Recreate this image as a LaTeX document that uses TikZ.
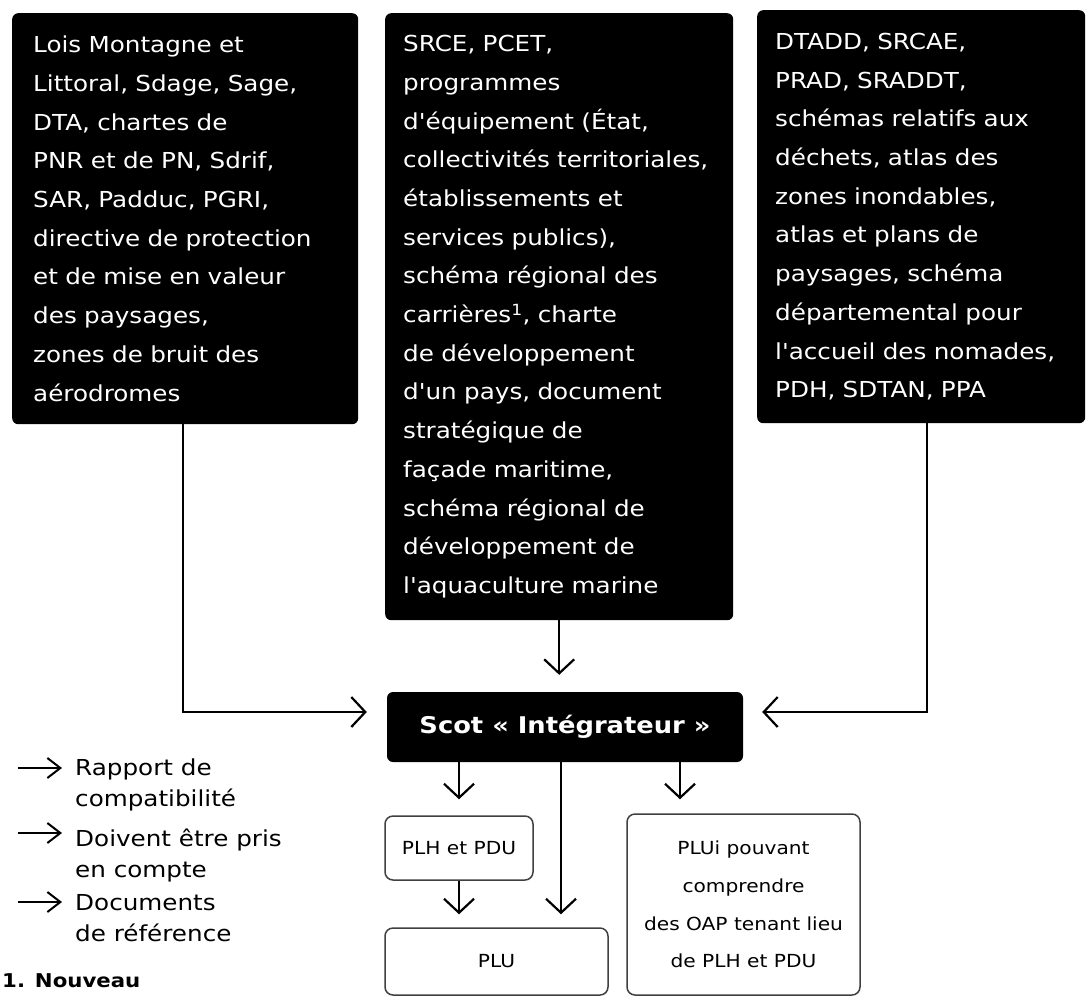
\documentclass[tikz,border=0pt]{standalone}
\usepackage{fontspec}
\setmainfont{DejaVu Sans}
\newfontfamily\wide[FakeStretch=1.12]{DejaVu Sans}
\usetikzlibrary{arrows.meta,calc}
\begin{document}
\begin{tikzpicture}[x=1pt,y=-1pt,
  darkbox/.style={fill=black, rounded corners=6pt, text=white, anchor=north west, align=left, inner ysep=0pt, font=\wide\fontsize{22}{38.7}\selectfont},
  scotbox/.style={fill=black, rounded corners=6pt, text=white, font=\wide\bfseries\fontsize{23}{28}\selectfont},
  whitebox/.style={draw=black!75, line width=1.5pt, rounded corners=8pt, align=center, font=\wide\fontsize{18}{37.7}\selectfont},
  arr/.style={line width=2.2pt, -{Straight Barb[length=14pt,width=30pt]}},
  legarr/.style={line width=2pt, -{Straight Barb[length=13pt,width=20pt]}},
  legtext/.style={anchor=north west, inner sep=0pt, align=left, font=\wide\fontsize{22}{31}\selectfont},
]
\fill[white] (0,0) rectangle (1092,997);
\useasboundingbox (0,0) rectangle (1092,997);

\node[darkbox, text width=304pt, inner xsep=21pt, minimum height=411pt] (box1) at (12,13)
 {Lois Montagne et\\Littoral, Sdage, Sage,\\DTA, chartes de\\PNR et de PN, Sdrif,\\SAR, Padduc, PGRI,\\directive de protection\\et de mise en valeur\\des paysages,\\zones de bruit des\\aérodromes};

\node[darkbox, text width=312pt, inner xsep=18pt, minimum height=607pt] (box2) at (385,13)
 {SRCE, PCET,\\programmes\\d'équipement (État,\\collectivités territoriales,\\établissements et\\services publics),\\schéma régional des\\carrières\textsuperscript{1}, charte\\de développement\\d'un pays, document\\stratégique de\\façade maritime,\\schéma régional de\\développement de\\l'aquaculture marine};

\node[darkbox, text width=292pt, inner xsep=18pt, minimum height=413pt] (box3) at (757,10)
 {DTADD, SRCAE,\\PRAD, SRADDT,\\schémas relatifs aux\\déchets, atlas des\\zones inondables,\\atlas et plans de\\paysages, schéma\\départemental pour\\l'accueil des nomades,\\PDH, SDTAN, PPA};

\node[scotbox, minimum width=356pt, minimum height=70pt] (scot) at (565,727) {Scot « Intégrateur »};

\node[whitebox, minimum width=148pt, minimum height=64pt] (plh) at (459,848) {PLH et PDU};
\node[whitebox, minimum width=223pt, minimum height=67pt] (plu) at (496.5,961.5) {PLU};
\node[whitebox, minimum width=233pt, minimum height=181pt] (plui) at (743.5,904.5)
 {PLUi pouvant\\comprendre\\des OAP tenant lieu\\de PLH et PDU};

\draw[arr, shorten >=20pt] ([xshift=-2pt]box1.south) |- ([yshift=15pt]scot.west);
\draw[arr, shorten >=19pt] ([xshift=6pt]box3.south) |- ([yshift=15pt]scot.east);
\draw[arr, shorten >=17pt] (box2.south) -- (box2.south |- scot.north);

\draw[arr, shorten >=16pt] (plh.north |- scot.south) -- (plh.north);
\draw[arr, shorten >=13pt] (plh.south) -- (plh.south |- plu.north);
\coordinate (s2) at ([xshift=-4pt]scot.south);
\draw[arr, shorten >=13pt] (s2) -- (s2 |- plu.north);
\coordinate (s3) at ([xshift=115pt]scot.south);
\draw[arr, shorten >=14pt] (s3) -- (s3 |- plui.north);

\coordinate (l1s) at (18,768); \coordinate (l1e) at (62,768);
\coordinate (l2s) at (18,833); \coordinate (l2e) at (62,833);
\coordinate (l3s) at (18,902); \coordinate (l3e) at (62,902);
\draw[legarr] (l1s) -- (l1e);
\draw[legarr] (l2s) -- (l2e);
\draw[legarr] (l3s) -- (l3e);
\node[legtext] (leg1) at (75,759) {Rapport de\\compatibilité};
\node[legtext] (leg2) at (75,829) {Doivent être pris\\en compte};
\node[legtext] (leg3) at (75,894) {Documents\\de référence};
\node[anchor=base west, inner sep=0pt, font=\wide\bfseries\fontsize{19}{22}\selectfont] (note) at (2,987) {1. Nouveau};
\end{tikzpicture}
\end{document}
